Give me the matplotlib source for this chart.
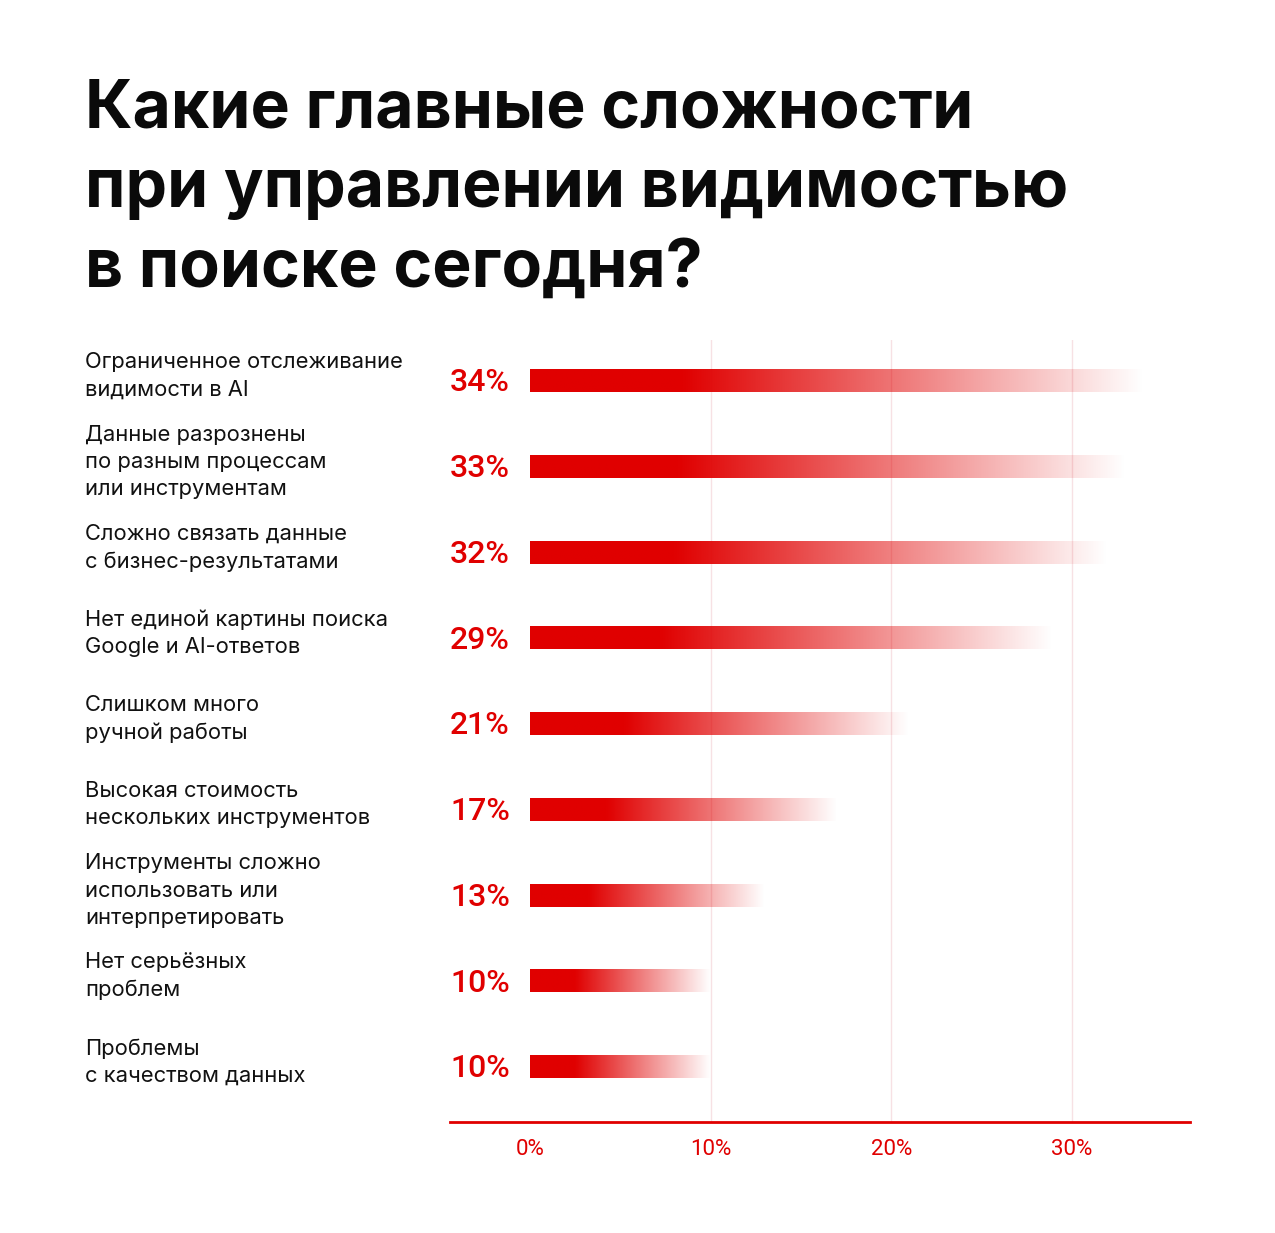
import numpy as np
import matplotlib
matplotlib.use("Agg")
import matplotlib.pyplot as plt
from matplotlib.colors import to_rgb

categories = [
    "Ограниченное отслеживание\nвидимости в AI",
    "Данные разрознены\nпо разным процессам\nили инструментам",
    "Сложно связать данные\nс бизнес-результатами",
    "Нет единой картины поиска\nGoogle и AI-ответов",
    "Слишком много\nручной работы",
    "Высокая стоимость\nнескольких инструментов",
    "Инструменты сложно\nиспользовать или\nинтерпретировать",
    "Нет серьёзных\nпроблем",
    "Проблемы\nс качеством данных",
]
values = [34, 33, 32, 29, 21, 17, 13, 10, 10]
ticks = [0, 10, 20, 30]
tick_labels = ["0%", "10%", "20%", "30%"]
title = "Какие главные сложности\nпри управлении видимостью\nв поиске сегодня?"

RED = "#E00000"
W, H = 1275, 1233
fig = plt.figure(figsize=(W / 100, H / 100), dpi=100)
fig.patch.set_facecolor("white")

def fx(px):
    return px / W

def fy(py):
    return 1 - py / H

# axes spanning pixel x 450..1190, y 340..1122
ax = fig.add_axes([fx(450), fy(1122), fx(1190) - fx(450), (1122 - 340) / H])
ax.set_xlim(-4.43, 36.53)
ax.set_ylim(8.64, -0.478)
ax.set_facecolor("none")
for s in ["top", "right", "left"]:
    ax.spines[s].set_visible(False)
ax.spines["bottom"].set_color(RED)
ax.spines["bottom"].set_linewidth(2)
ax.set_yticks([])
ax.set_xticks(ticks)
ax.set_xticklabels(tick_labels, color=RED, fontsize=16, family="Roboto")
ax.tick_params(axis="x", length=0, pad=12)

for t in ticks[1:]:
    ax.axvline(t, color="#F7E1E4", lw=1, zorder=0)

rgb = np.array(to_rgb(RED))
n = 256
bar_h = 0.26
for i, v in enumerate(values):
    f = np.linspace(0, 1, n)
    alpha = np.clip(1 - (f - 0.25) / 0.75, 0, 1) ** 1.0
    img = np.zeros((1, n, 4))
    img[0, :, :3] = rgb
    img[0, :, 3] = alpha
    ax.imshow(img, extent=[0, v, i + bar_h / 2, i - bar_h / 2], aspect="auto",
              interpolation="bilinear", zorder=2)
    ax.text(-4.43, i + 0.02, f"{v}%", ha="left", va="center", color=RED,
            fontsize=23, family="Roboto", fontweight="medium")

# category labels in figure coords aligned to bar centers
for i, c in enumerate(categories):
    y_disp = ax.transData.transform((0, i))[1]
    y_fig = fig.transFigure.inverted().transform((0, y_disp))[1]
    fig.text(fx(85), y_fig + 0.004, c, ha="left", va="center", fontsize=15.8,
             family="Inter", color="#111111", linespacing=1.45)

fig.text(fx(85), fy(78), title, ha="left", va="top", fontsize=47.6,
         family="Inter", fontweight="bold", color="#0A0A0A", linespacing=1.34)

fig.savefig("out.png", dpi=100, facecolor="white")
